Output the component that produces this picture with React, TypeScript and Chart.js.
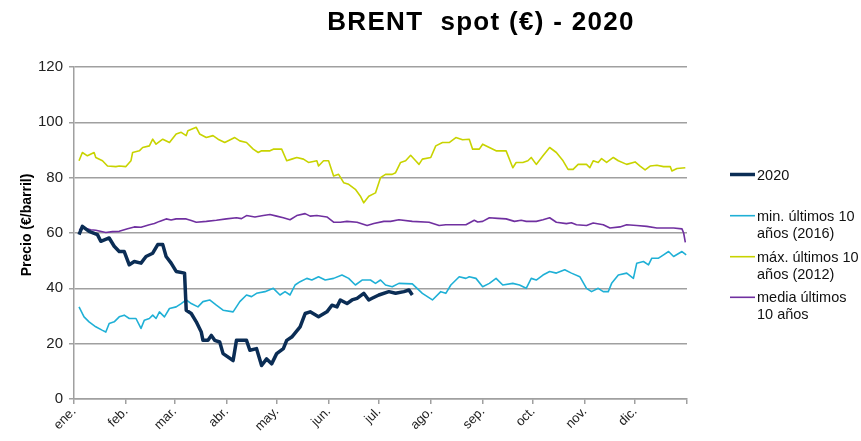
import React, { useEffect, useRef } from "react";
import { Chart, registerables } from "chart.js";

Chart.register(...registerables);

const FONT = "'Liberation Sans', Arial, sans-serif";

const monthStarts = [0, 31, 60, 91, 121, 152, 182, 213, 244, 274, 305, 335, 366];
const monthLabels = ["ene.", "feb.", "mar.", "abr.", "may.", "jun.", "jul.", "ago.", "sep.", "oct.", "nov.", "dic."];

// [day of year, €/barril]
const serie2020: [number, number][] = [
  [3, 59.4], [5, 62.4], [9, 60.6], [14, 59.4], [16, 57], [21, 58.2], [24, 55.2], [27, 53.3], [30, 53.3],
  [33, 48.5], [36, 49.7], [40, 49.1], [43, 51.5], [47, 52.7], [50, 55.8], [53, 55.8], [55, 51.5], [58, 49.1],
  [61, 46.1], [66, 45.5], [67, 32.1], [70, 30.9], [73, 27.9], [76, 24.2], [77, 21.2], [80, 21.2], [82, 23],
  [84, 21.2], [87, 20.6], [89, 16.4], [95, 13.9], [97, 21.2], [101, 21.2], [103, 21.2], [105, 17.6], [109, 18.2],
  [112, 12.1], [115, 14.5], [118, 12.7], [121, 16.4], [125, 18.2], [127, 21.2], [130, 22.4], [135, 26.1],
  [138, 30.9], [141, 31.5], [146, 29.7], [151, 31.5], [154, 33.9], [157, 33.3], [159, 35.8], [163, 34.5],
  [166, 35.8], [169, 36.4], [173, 38.2], [176, 35.8], [178, 36.4], [182, 37.6], [188, 38.8], [192, 38.2],
  [197, 38.8], [200, 39.4], [202, 37.6],
];

const serieMin: [number, number][] = [
  [3, 33.3], [6, 29.7], [9, 27.9], [13, 26.1], [17, 24.8], [19, 24.2], [21, 27.3], [24, 27.9], [27, 29.7],
  [30, 30.3], [33, 29.1], [37, 29.1], [40, 25.5], [42, 28.5], [45, 29.1], [47, 30.3], [49, 29.1], [51, 31.5],
  [54, 29.7], [57, 32.7], [61, 33.3], [64, 34.5], [67, 35.8], [70, 34.5], [74, 33.3], [77, 35.2], [81, 35.8],
  [85, 33.9], [89, 32.1], [95, 31.5], [99, 35.2], [103, 37.6], [106, 37], [109, 38.2], [114, 38.8], [119, 40],
  [123, 37.6], [126, 38.8], [129, 37.6], [132, 41.2], [135, 42.4], [139, 43.6], [142, 43], [146, 44.2],
  [150, 43], [155, 43.6], [160, 44.8], [164, 43.6], [168, 41.2], [172, 43], [177, 43], [180, 41.8], [183, 43],
  [186, 41.2], [190, 40.6], [194, 41.8], [202, 41.6], [208, 38.2], [214, 35.8], [219, 38.8], [222, 38.2],
  [225, 41.2], [230, 44.2], [234, 43.6], [236, 44.2], [240, 43.6], [244, 40.6], [248, 41.8], [252, 43.6],
  [256, 41.2], [262, 41.8], [266, 41.2], [270, 40], [273, 43.6], [276, 43], [280, 44.8], [284, 46.1],
  [288, 45.5], [293, 46.7], [297, 45.5], [302, 44.2], [306, 40], [309, 38.8], [313, 40], [316, 38.8],
  [319, 38.8], [321, 41.8], [325, 44.8], [330, 45.5], [334, 43.6], [336, 49.1], [340, 49.7], [343, 48.5],
  [345, 50.9], [349, 50.9], [352, 52.1], [355, 53.3], [358, 51.5], [363, 53.3], [365.5, 52.1],
];

const serieMax: [number, number][] = [
  [3, 86.1], [5, 89.1], [8, 87.9], [12, 89.1], [13, 87.3], [17, 86.1], [20, 84.2], [25, 84], [27, 84.2],
  [31, 84], [34, 86.1], [35, 89.1], [39, 89.7], [41, 90.9], [45, 91.5], [47, 93.9], [49, 92.1], [53, 93.9],
  [57, 92.7], [61, 95.8], [64, 96.4], [67, 95.2], [68, 97], [73, 98.2], [75, 95.8], [79, 94.5], [83, 95.2],
  [86, 93.9], [90, 92.7], [96, 94.5], [99, 93.3], [103, 92.7], [107, 90.3], [110, 89.1], [112, 89.7],
  [117, 89.7], [119, 90.3], [124, 90.3], [127, 86.1], [130, 86.7], [133, 87.3], [137, 86.7], [140, 85.5],
  [145, 86.1], [146, 84.2], [149, 86.1], [152, 86.1], [155, 80.6], [158, 81.2], [161, 78.2], [164, 77.6],
  [168, 75.8], [171, 73.3], [173, 70.9], [176, 73.3], [180, 74.5], [183, 80], [186, 81.2], [190, 81.2],
  [192, 81.8], [195, 85.5], [198, 86.1], [201, 88.1], [204, 86.1], [206, 84.8], [208, 86.7], [213, 87.3],
  [216, 91.5], [220, 92.7], [224, 92.7], [228, 94.5], [232, 93.7], [236, 93.9], [238, 90.3], [242, 90.3],
  [244, 92.1], [248, 90.9], [252, 89.7], [258, 89.7], [262, 83.6], [264, 85.5], [268, 85.5], [271, 86.1],
  [273, 87.3], [276, 84.8], [280, 87.9], [284, 90.9], [288, 89.1], [292, 86.1], [295, 83], [298, 83],
  [301, 84.8], [306, 84.8], [308, 83.6], [310, 86.1], [313, 85.5], [315, 86.9], [318, 85.5], [322, 87.3],
  [325, 86.1], [330, 84.8], [335, 85.7], [338, 84.2], [341, 82.8], [344, 84.2], [348, 84.5], [352, 84],
  [356, 84], [357, 82.4], [360, 83.3], [365, 83.6],
];

const serieMedia: [number, number][] = [
  [3, 61.2], [6, 61.8], [10, 61.2], [13, 61], [19, 60.2], [23, 60.5], [27, 60.6], [32, 61.5], [36, 62.2],
  [40, 62.1], [45, 63], [48, 63.4], [51, 64.2], [55, 65.1], [58, 64.7], [61, 65.1], [67, 65.1], [70, 64.5],
  [73, 63.9], [79, 64.2], [85, 64.6], [91, 65.1], [97, 65.5], [100, 65.2], [103, 66.3], [108, 65.8],
  [113, 66.3], [117, 66.7], [121, 66.1], [125, 65.5], [129, 64.8], [133, 66.3], [138, 67], [141, 66.1],
  [145, 66.3], [151, 65.8], [155, 63.9], [159, 63.9], [163, 64.2], [169, 63.9], [175, 62.7], [179, 63.4],
  [185, 64.2], [189, 64.2], [194, 64.8], [202, 64.2], [212, 63.9], [218, 62.7], [222, 63], [230, 63],
  [234, 63], [239, 64.6], [241, 64], [244, 64.2], [248, 65.5], [253, 65.3], [258, 65.1], [263, 64.2],
  [267, 64.6], [270, 64.2], [276, 64.2], [280, 64.8], [284, 65.5], [288, 63.9], [294, 63.4], [297, 63.7],
  [300, 63], [306, 62.7], [310, 63.6], [316, 63], [320, 61.8], [326, 62.2], [330, 63], [336, 62.7],
  [342, 62.4], [348, 61.8], [354, 61.8], [358, 61.8], [363, 61.5], [364, 60], [365, 56.6],
];

const seriesNames = [["2020"], ["min. últimos 10", "años (2016)"], ["máx. últimos 10", "años (2012)"], ["media últimos", "10 años"]];
const seriesColors = ["#0b2d55", "#1fb0d6", "#c8d300", "#7030a0"];
const seriesWidths = [3.5, 1.6, 1.6, 1.6];
const seriesData = [serie2020, serieMin, serieMax, serieMedia];

const textPlugin = {
  id: "texts",
  afterDraw(chart: any) {
    const ctx = chart.ctx as CanvasRenderingContext2D;
    ctx.save();
    // Title
    ctx.fillStyle = "#000";
    ctx.font = `bold 26px ${FONT}`;
    (ctx as any).letterSpacing = "1.3px";
    ctx.textAlign = "center";
    ctx.textBaseline = "middle";
    ctx.fillText("BRENT  spot (€) - 2020", 481, 23);
    (ctx as any).letterSpacing = "0px";
    // Y axis title
    ctx.save();
    ctx.translate(27, 225);
    ctx.rotate(-Math.PI / 2);
    ctx.font = `bold 14px ${FONT}`;
    ctx.fillText("Precio (€/barril)", 0, 0);
    ctx.restore();
    // Legend
    const ys = [174.5, 215.7, 256.7, 297.3];
    ctx.font = `14.5px ${FONT}`;
    ctx.textAlign = "left";
    seriesNames.forEach((lines, i) => {
      const y = ys[i];
      ctx.strokeStyle = seriesColors[i];
      ctx.lineWidth = seriesWidths[i];
      ctx.beginPath();
      ctx.moveTo(730, y);
      ctx.lineTo(755, y);
      ctx.stroke();
      ctx.fillStyle = "#111";
      lines.forEach((t, j) => ctx.fillText(t, 757, y + 1 + j * 17));
    });
    ctx.restore();
  },
};

export default function App() {
  const ref = useRef<HTMLCanvasElement | null>(null);
  useEffect(() => {
    if (!ref.current) return;
    const chart = new Chart(ref.current, {
      type: "line",
      data: {
        datasets: seriesData.map((s, i) => ({
          label: seriesNames[i].join(" "),
          data: s.map(([x, y]) => ({ x, y })),
          borderColor: seriesColors[i],
          backgroundColor: seriesColors[i],
          borderWidth: seriesWidths[i],
          pointRadius: 0,
          tension: 0,
          fill: false,
          borderJoinStyle: "round" as const,
        })),
      },
      options: {
        animation: false,
        responsive: true,
        maintainAspectRatio: false,
        layout: { padding: { top: 67, right: 174, bottom: 0, left: 0 } },
        plugins: { legend: { display: false }, title: { display: false }, tooltip: { enabled: false } },
        scales: {
          x: {
            type: "linear",
            min: 0,
            max: 366,
            afterBuildTicks: (scale: any) => {
              scale.ticks = monthStarts.map((v) => ({ value: v }));
            },
            afterFit: (scale: any) => {
              scale.height = 42;
            },
            ticks: {
              autoSkip: false,
              minRotation: 45,
              maxRotation: 45,
              padding: 0,
              color: "#222",
              font: { family: FONT, size: 13 },
              callback: (v: any) => {
                const i = monthStarts.indexOf(Number(v));
                return i >= 0 && i < monthLabels.length ? monthLabels[i] : "";
              },
            },
            grid: { drawOnChartArea: false, drawTicks: true, tickLength: 5, color: "#a0a0a0", lineWidth: 1.5 },
            border: { color: "#a0a0a0", width: 1.5 },
          },
          y: {
            min: 0,
            max: 120,
            afterFit: (scale: any) => {
              scale.width = 74;
            },
            ticks: { stepSize: 20, padding: 6, color: "#222", font: { family: FONT, size: 15 } },
            grid: { color: "#a0a0a0", lineWidth: 1.5, tickLength: 5 },
            border: { color: "#a0a0a0", width: 1.5 },
          },
        },
      },
      plugins: [textPlugin],
    });
    return () => chart.destroy();
  }, []);
  return (
    <div style={{ position: "fixed", left: 0, top: 0, width: 861, height: 441, background: "#fff" }}>
      <canvas ref={ref} />
    </div>
  );
}
